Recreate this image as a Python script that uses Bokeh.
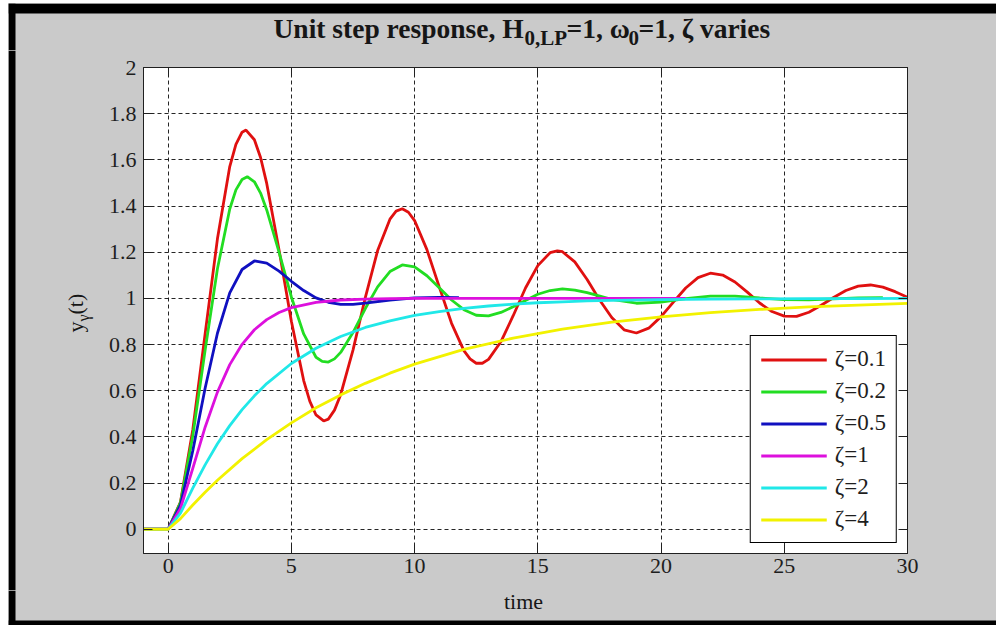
from bokeh.plotting import figure
from bokeh.models import (Label, LinearAxis, FixedTicker, Legend, LegendItem, Range1d, Spacer,
                          BoxAnnotation)
from bokeh.layouts import column, row
from bokeh.embed import file_html
from bokeh.resources import INLINE
import math

# ---------------- data ----------------
x_ticks = [0, 5, 10, 15, 20, 25, 30]
x_tick_labels = ["0", "5", "10", "15", "20", "25", "30"]
y_ticks = [0, 0.2, 0.4, 0.6, 0.8, 1.0, 1.2, 1.4, 1.6, 1.8, 2.0]
y_tick_labels = ["0", "0.2", "0.4", "0.6", "0.8", "1", "1.2", "1.4", "1.6", "1.8", "2"]

series_labels = ["\u03b6=0.1", "\u03b6=0.2", "\u03b6=0.5", "\u03b6=1", "\u03b6=2", "\u03b6=4"]

t_z01 = [-1, 0, 0.5, 1, 1.5, 2, 2.5, 2.75, 3, 3.16, 3.5, 3.75, 4, 4.5, 5, 5.5, 5.75, 6, 6.31,
         6.5, 6.75, 7, 7.5, 8, 8.5, 9, 9.25, 9.5, 9.75, 10, 10.5, 11, 11.5, 12, 12.25, 12.5,
         12.75, 13, 13.5, 14, 14.5, 15, 15.5, 15.79, 16, 16.5, 17, 17.5, 18, 18.5, 19, 19.5,
         20, 20.5, 21, 21.5, 22, 22.5, 23, 23.5, 24, 24.5, 25, 25.5, 26, 26.5, 27, 27.5, 28,
         28.5, 29, 29.5, 30]
y_z01 = [0, 0, 0.118, 0.431, 0.846, 1.258, 1.571, 1.667, 1.720, 1.729, 1.687, 1.610, 1.498,
         1.210, 0.901, 0.644, 0.554, 0.495, 0.469, 0.477, 0.516, 0.583, 0.776, 1.003, 1.207,
         1.343, 1.378, 1.388, 1.373, 1.337, 1.211, 1.050, 0.892, 0.774, 0.738, 0.719, 0.719,
         0.736, 0.812, 0.925, 1.045, 1.142, 1.198, 1.206, 1.202, 1.158, 1.082, 0.994, 0.917,
         0.864, 0.850, 0.871, 0.921, 0.984, 1.045, 1.090, 1.109, 1.101, 1.071, 1.027, 0.980,
         0.943, 0.923, 0.922, 0.940, 0.970, 1.004, 1.034, 1.053, 1.058, 1.049, 1.029, 1.005]

t_z02 = [-1, 0, 0.5, 1, 1.5, 2, 2.5, 2.75, 3, 3.21, 3.5, 3.75, 4, 4.5, 5, 5.5, 6, 6.25, 6.5,
         6.75, 7, 7.5, 8, 8.5, 9, 9.5, 10, 10.5, 11, 11.5, 12, 12.5, 13, 13.5, 14, 15, 15.5,
         16, 16.5, 17, 18, 19, 20, 21, 22, 23, 24, 25, 26, 27, 28, 29]
y_z02 = [0, 0, 0.115, 0.405, 0.775, 1.128, 1.387, 1.470, 1.515, 1.527, 1.505, 1.456, 1.383,
         1.200, 1.006, 0.846, 0.745, 0.727, 0.724, 0.738, 0.766, 0.852, 0.956, 1.050, 1.116,
         1.145, 1.136, 1.098, 1.046, 0.993, 0.951, 0.927, 0.924, 0.939, 0.964, 1.018, 1.034,
         1.041, 1.036, 1.025, 0.996, 0.979, 0.984, 0.999, 1.010, 1.010, 1.002, 0.995, 0.994,
         0.998, 1.002, 1.003]

t_z05 = [-1, 0, 0.5, 1, 1.5, 2, 2.5, 3, 3.5, 4, 4.5, 5, 5.5, 6, 6.5, 7, 7.5, 8, 9, 10, 11, 11.8]
y_z05 = [0, 0, 0.104, 0.340, 0.611, 0.849, 1.024, 1.125, 1.162, 1.153, 1.118, 1.074, 1.034,
         1.002, 0.983, 0.974, 0.974, 0.979, 0.993, 1.002, 1.004, 1.003]

t_z1 = [-1, 0, 0.5, 1, 1.5, 2, 2.5, 3, 3.5, 4, 4.5, 5, 6, 7, 8, 9, 10, 12, 15, 18, 21]
y_z1 = [0, 0, 0.090, 0.264, 0.442, 0.594, 0.713, 0.801, 0.864, 0.908, 0.939, 0.960, 0.983,
        0.993, 0.997, 0.999, 1.0, 1.0, 1.0, 1.0, 1.0]

t_z2 = [-1, 0, 0.5, 1, 1.5, 2, 2.5, 3, 3.5, 4, 5, 6, 7, 8, 9, 10, 11, 12, 13, 14, 15, 16, 17,
        18, 20, 22, 24, 26, 28, 30]
y_z2 = [0, 0, 0.070, 0.178, 0.279, 0.370, 0.449, 0.518, 0.578, 0.631, 0.718, 0.784, 0.835,
        0.874, 0.903, 0.926, 0.943, 0.957, 0.967, 0.975, 0.981, 0.985, 0.989, 0.991, 0.995,
        0.997, 0.998, 0.999, 0.999, 1.0]

t_z4 = [-1, 0, 0.5, 1, 1.5, 2, 3, 4, 5, 6, 7, 8, 9, 10, 12, 14, 16, 18, 20, 22, 24, 26, 28, 30]
y_z4 = [0, 0, 0.046, 0.105, 0.160, 0.212, 0.306, 0.388, 0.461, 0.526, 0.582, 0.632, 0.676,
        0.715, 0.779, 0.828, 0.867, 0.897, 0.920, 0.938, 0.952, 0.963, 0.971, 0.978]

series_t = [t_z01, t_z02, t_z05, t_z1, t_z2, t_z4]
series_y = [y_z01, y_z02, y_z05, y_z1, y_z2, y_z4]
colors = ["#e01010", "#22dd22", "#1010c0", "#dd10dd", "#20e8e8", "#f2f200"]

title_parts = ["Unit step response, H", "0,LP", "=1, \u03c9", "0", "=1, \u03b6 varies"]
x_label = "time"
y_label_parts = ["y", "\u03b3", "(t)"]

# ---------------- styling constants ----------------
SERIF = "Liberation Serif"
GRAY = "#cacaca"
INK = "#161616"
X0, X1 = -1, 30
Y0, Y1 = -0.105, 2.0
MID = 0.3375   # em offset between alphabetic baseline and em-box middle
HIDE = {"overflow": "hidden"}

# page geometry (page pixels): white sliver 0..8 / 0..3, figure block 8..996 x 3..625
OX, OY = 8, 3
FULL_W = 988
TOP_H = 47       # page y 3..50
MID_H = 540      # page y 50..590
BOT_H = 35       # page y 590..625
BOT_END = 50 + MID_H + BOT_H
LEFT_W = 92      # page x 8..100
MAIN_W = FULL_W - LEFT_W


def no_align(f):
    if hasattr(f, "frame_align"):
        f.frame_align = False


def strip(w, h):
    f = figure(width=w, height=h, x_range=Range1d(0, w), y_range=Range1d(0, h),
               output_backend="svg", toolbar_location=None, title=None,
               x_axis_location=None, y_axis_location=None,
               min_border=0, min_border_left=0, min_border_right=0,
               min_border_top=0, min_border_bottom=0,
               background_fill_color=GRAY, border_fill_color=GRAY, outline_line_color=None)
    f.grid.visible = False
    no_align(f)
    return f


def band(f, left, right, bottom, top):
    f.add_layout(BoxAnnotation(left=left, right=right, bottom=bottom, top=top,
                               fill_color="black", fill_alpha=1, line_color=None))


def put(f, text, x, y, size, bold=False, angle=0.0, align="left"):
    f.add_layout(Label(x=x, y=y, text=text, text_font=SERIF, text_font_size=f"{size}px",
                       text_font_style="bold" if bold else "normal", text_color=INK,
                       angle=angle, text_align=align, text_baseline="middle"))


# ---------------- title strip: page x 8..996, y 3..50 ; data = (px-8, 50-py) ----------------
top = strip(FULL_W, TOP_H)
band(top, 0, 7, 0, TOP_H)
band(top, 0, FULL_W, TOP_H - 10, TOP_H)
tx = [273, 524, 566, 628, 638]
ty = [37, 45, 37, 45, 37]          # alphabetic baselines
tsz = [27.5, 21, 27.5, 21, 27.5]
for s, px, py, fs in zip(title_parts, tx, ty, tsz):
    put(top, s, px - OX, 50 - (py - MID * fs), fs, bold=True)

# ---------------- left strip: page x 8..100, y 50..590 ; data = (px-8, 590-py) ----------------
left = strip(LEFT_W, MID_H)
band(left, 0, 7, 0, MID_H)
yl = [(82, 332, 22), (88, 321, 16), (82, 314, 22)]   # (baseline x, start y, size)
for s, (px, py, fs) in zip(y_label_parts, yl):
    put(left, s, (px - MID * fs) - OX, 590 - py, fs, angle=math.pi / 2)

# ---------------- bottom strip: page x 8..996, y 590..625 ; data = (px-8, 625-py) ----------------
bot = strip(FULL_W, BOT_H)
band(bot, 0, 7, 0, BOT_H)
band(bot, 0, FULL_W, 0, 5)
put(bot, x_label, 523 - OX, BOT_END - (608 - MID * 22), 22, align="center")

# ---------------- main plot: page x 100..996, y 50..590, frame 143..907 x 67..553 ----------------
p = figure(width=MAIN_W, height=MID_H, x_range=Range1d(X0, X1), y_range=Range1d(Y0, Y1),
           output_backend="svg", toolbar_location=None, title=None,
           min_border=0, min_border_left=43, min_border_right=89,
           min_border_top=17, min_border_bottom=37,
           background_fill_color="white", border_fill_color=GRAY)
no_align(p)
p.outline_line_color = "#202020"
p.outline_line_width = 1

xticker = FixedTicker(ticks=x_ticks)
yticker = FixedTicker(ticks=y_ticks)
x_over = {t: s for t, s in zip(x_ticks, x_tick_labels)}
y_over = {t: s for t, s in zip(y_ticks, y_tick_labels)}


def style_axis(ax, ticker, over, show_labels):
    ax.ticker = ticker
    ax.major_label_overrides = over
    ax.minor_tick_line_color = None
    ax.major_tick_in = 9
    ax.major_tick_out = 0
    ax.major_tick_line_color = "#202020"
    ax.axis_line_color = "#202020"
    ax.major_label_text_font = SERIF
    if show_labels:
        ax.major_label_text_font_size = "22px"
        ax.major_label_text_color = "#1e1e1e"
    else:
        ax.major_label_text_font_size = "1px"
        ax.major_label_text_color = None
        ax.major_label_standoff = 0


style_axis(p.xaxis[0], xticker, x_over, True)
style_axis(p.yaxis[0], yticker, y_over, True)
p.xaxis[0].major_label_standoff = 5
p.yaxis[0].major_label_standoff = 7

top_ax = LinearAxis()
style_axis(top_ax, xticker, x_over, False)
p.add_layout(top_ax, "above")
right_ax = LinearAxis()
style_axis(right_ax, yticker, y_over, False)
p.add_layout(right_ax, "right")

for g, tk in ((p.xgrid[0], xticker), (p.ygrid[0], yticker)):
    g.ticker = tk
    g.grid_line_color = "black"
    g.grid_line_dash = "4 3"
    g.grid_line_width = 1
    g.grid_line_alpha = 0.85

renderers = []
for t, y, c in zip(series_t, series_y, colors):
    renderers.append(p.line(t, y, line_color=c, line_width=2.8))

legend = Legend(items=[LegendItem(label=lab, renderers=[r]) for lab, r in zip(series_labels, renderers)],
                location="bottom_right", margin=10, padding=10, spacing=6,
                glyph_width=66, glyph_height=25, label_height=25, label_standoff=8,
                label_text_font=SERIF, label_text_font_size="23px", label_text_color="#1e1e1e",
                border_line_color="black", border_line_width=1.5, border_line_alpha=1,
                background_fill_color="white", background_fill_alpha=1)
p.add_layout(legend)

for f in (top, left, bot, p):
    f.styles = dict(HIDE)

mid_row = row(left, p, spacing=0, styles=dict(HIDE))
inner = column(top, mid_row, bot, spacing=0,
               styles={"background-color": GRAY, "overflow": "hidden"})
outer_row = row(Spacer(width=OX, height=TOP_H + MID_H + BOT_H), inner, spacing=0,
                styles=dict(HIDE))
layout = column(Spacer(width=996, height=OY), outer_row, spacing=0, styles=dict(HIDE))

open("out.html", "w").write(file_html(layout, INLINE))
